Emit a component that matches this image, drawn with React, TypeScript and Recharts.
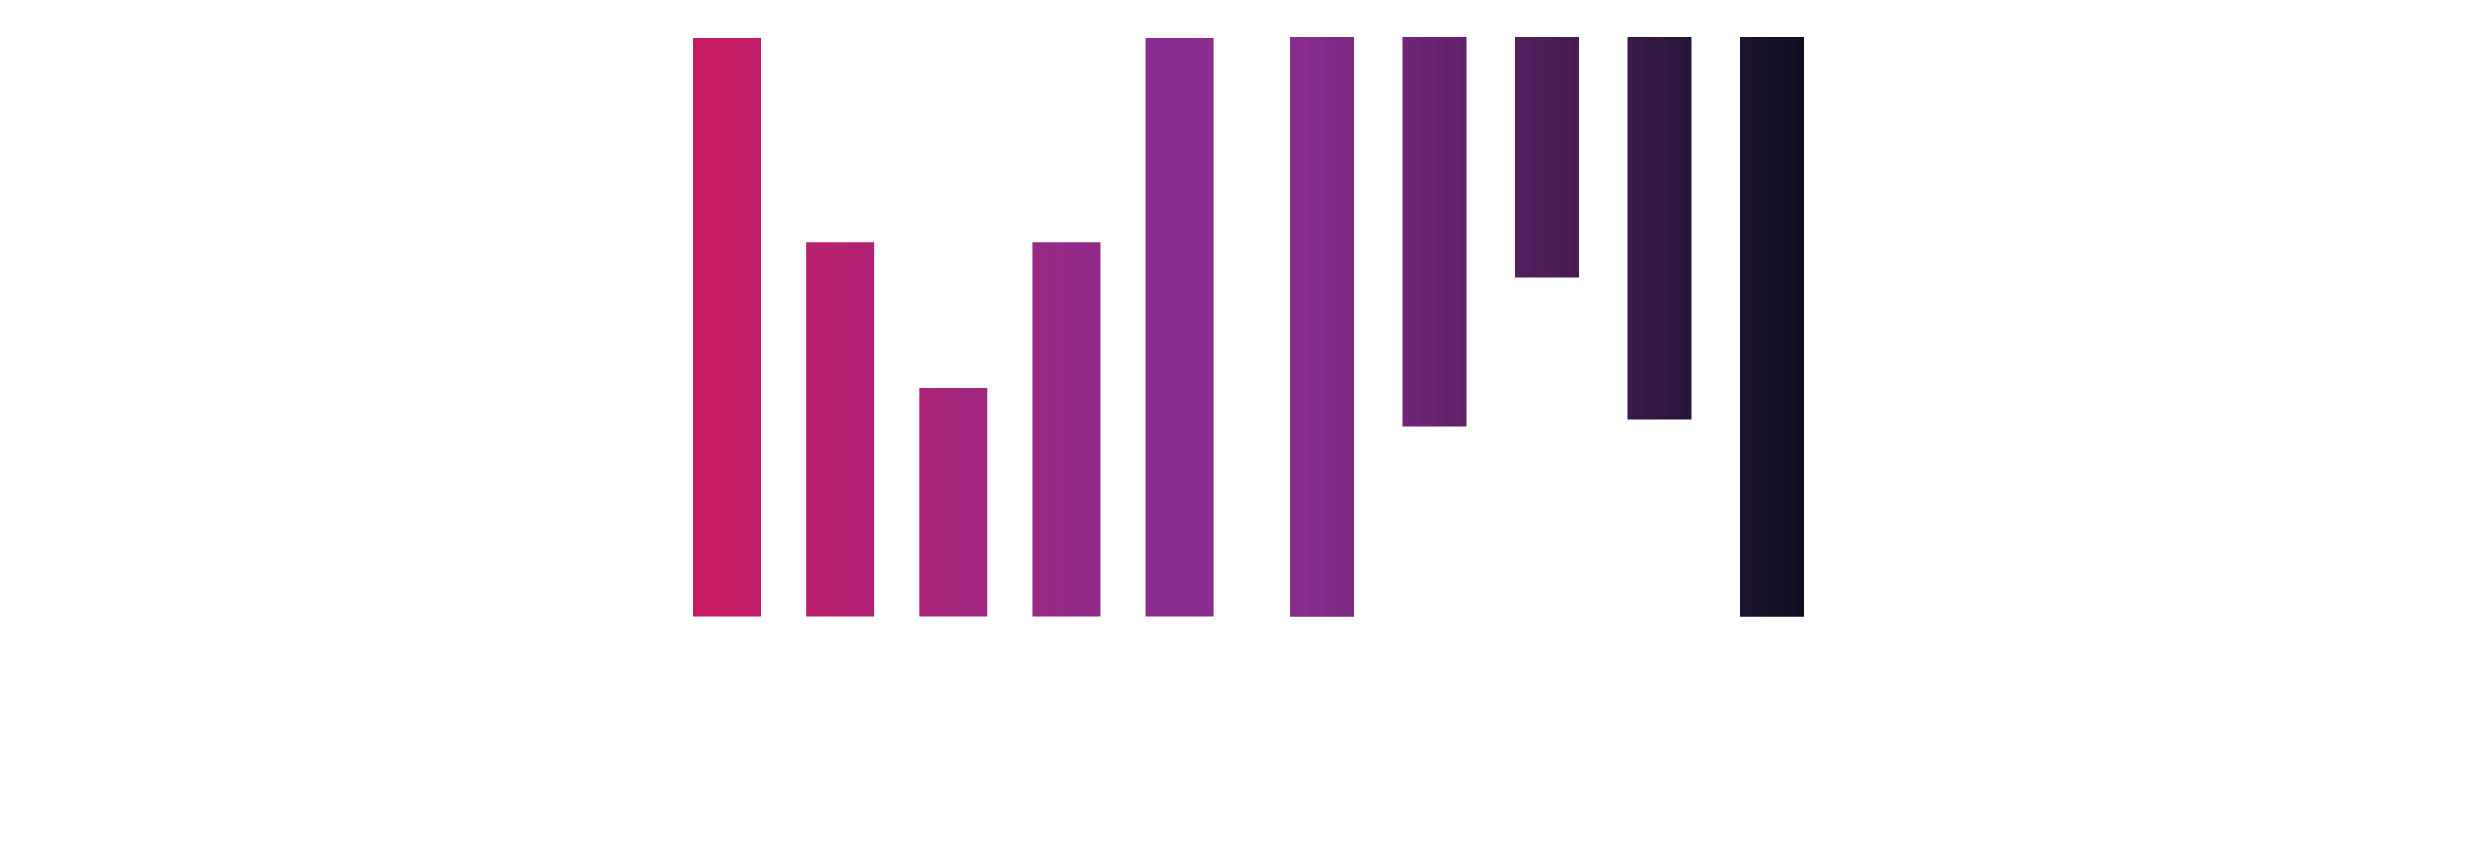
import { BarChart, Bar, XAxis, YAxis } from 'recharts';

// left group: plain bars rising from the baseline
const leftCats = ['a', 'b', 'c', 'd', 'e'];
const leftValues = [100, 64.7, 39.5, 64.7, 100];

// right group: same scale, axis flipped so bars hang from the top
const rightCats = ['f', 'g', 'h', 'i', 'j'];
const rightValues = [100, 67.2, 41.5, 66, 100];

const leftData = leftCats.map((name, i) => ({ name, value: leftValues[i] }));
const rightData = rightCats.map((name, i) => ({ name, value: rightValues[i] }));

export default function App() {
  return (
    <div style={{ position: 'relative', width: 2465, height: 840 }}>
      <div style={{ position: 'absolute', left: 661.6, top: 30.3 }}>
        <BarChart width={565.75} height={578.4} data={leftData} margin={{ top: 0, right: 0, bottom: 0, left: 0 }}>
          <defs>
            <linearGradient id="leftFill" gradientUnits="userSpaceOnUse" x1={22} y1={0} x2={475} y2={0}>
              <stop offset="0%" stopColor="#c91b62" />
              <stop offset="100%" stopColor="#8a2d8e" />
            </linearGradient>
          </defs>
          <XAxis dataKey="name" hide />
          <YAxis type="number" domain={[0, 100]} hide />
          <Bar dataKey="value" fill="url(#leftFill)" barSize={68} isAnimationActive={false} />
        </BarChart>
      </div>
      <div style={{ position: 'absolute', left: 1258.25, top: 29 }}>
        <BarChart width={562.5} height={579.7} data={rightData} margin={{ top: 0, right: 0, bottom: 0, left: 0 }}>
          <defs>
            <linearGradient id="rightFill" gradientUnits="userSpaceOnUse" x1={24} y1={0} x2={538} y2={0}>
              <stop offset="0%" stopColor="#8a2d8e" />
              <stop offset="100%" stopColor="#0e0f22" />
            </linearGradient>
          </defs>
          <XAxis dataKey="name" hide />
          <YAxis type="number" domain={[0, 100]} reversed hide />
          <Bar dataKey="value" fill="url(#rightFill)" barSize={64} isAnimationActive={false} />
        </BarChart>
      </div>
    </div>
  );
}
